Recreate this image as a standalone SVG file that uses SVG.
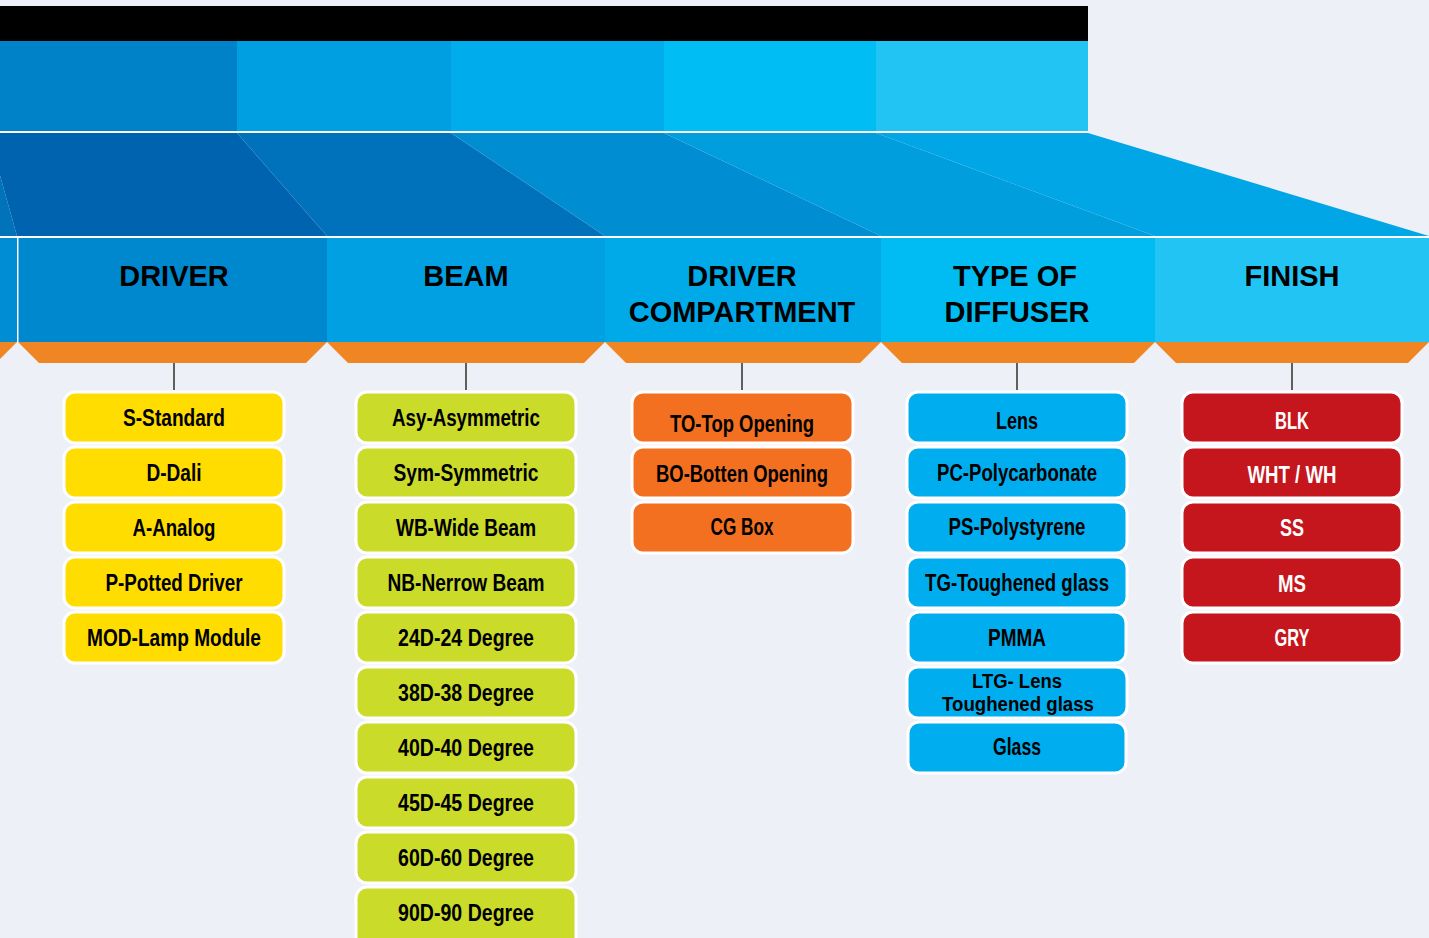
<svg xmlns="http://www.w3.org/2000/svg" width="1429" height="938" viewBox="0 0 1429 938">
<style>
.hd{font-family:"Liberation Sans",Arial,sans-serif;font-weight:bold;font-size:29px;fill:#000;text-anchor:middle}
.it{font-family:"Liberation Sans",Arial,sans-serif;font-weight:bold;font-size:23px;fill:#000;text-anchor:middle}
.sm{font-size:20px}
.wt{fill:#fff}
.box{stroke:#fff;stroke-width:3}
.y{fill:#FFDD00}.g{fill:#CBDB2A}.o{fill:#F37021}.b{fill:#00AEEF}.r{fill:#C4161C}
.orn{fill:#EF8623}
.con{stroke:#5f5f5f;stroke-width:2;fill:none}
</style>
<rect x="0" y="0" width="1429" height="938" fill="#EDF0F7"/>
<g id="banner">
<rect x="0" y="6" width="1088" height="35" fill="#000"/>
<rect x="0" y="41" width="237" height="90" fill="#0082C9"/>
<rect x="237" y="41" width="214" height="90" fill="#009FE2"/>
<rect x="451" y="41" width="213" height="90" fill="#00ACEB"/>
<rect x="664" y="41" width="212" height="90" fill="#00BDF3"/>
<rect x="876" y="41" width="212" height="90" fill="#22C4F3"/>
<rect x="0" y="131" width="1088" height="2" fill="#fff"/>
<polygon points="-40,133 -12,133 17,236 -40,236" fill="#0073BB"/>
<polygon points="-12,133 237,133 327,236 17,236" fill="#0063AF"/>
<polygon points="237,133 451,133 605,236 327,236" fill="#0072BB"/>
<polygon points="451,133 664,133 881,236 605,236" fill="#008DD1"/>
<polygon points="664,133 876,133 1155,236 881,236" fill="#009EDD"/>
<polygon points="876,133 1088,133 1429,236 1155,236" fill="#00A6E6"/>
<rect x="0" y="236" width="1429" height="2" fill="#fff"/>
<rect x="0" y="238" width="17" height="104" fill="#008DD3"/>
<rect x="17" y="238" width="1.5" height="104" fill="#fff"/>
<polygon class="orn" points="0,342 17,342 0,359"/>
</g>
<g id="col-driver">
<rect x="18.5" y="238" width="309" height="104" fill="#0088CF"/>
<polygon class="orn" points="18,342 327,342 306,363 39,363"/>
<text class="hd" x="174" y="286">DRIVER</text>
</g>
<g id="col-beam">
<rect x="327" y="238" width="278" height="104" fill="#00A0E2"/>
<polygon class="orn" points="327,342 605,342 584,363 348,363"/>
<text class="hd" x="466" y="286">BEAM</text>
</g>
<g id="col-driver-compartment">
<rect x="605" y="238" width="276" height="104" fill="#00AAE9"/>
<polygon class="orn" points="605,342 881,342 860,363 626,363"/>
<text class="hd" x="742" y="286">DRIVER</text>
<text class="hd" x="742" y="322">COMPARTMENT</text>
</g>
<g id="col-type-of-diffuser">
<rect x="881" y="238" width="274" height="104" fill="#00BCF2"/>
<polygon class="orn" points="881,342 1155,342 1134,363 902,363"/>
<text class="hd" x="1015" y="286">TYPE OF</text>
<text class="hd" x="1017" y="322">DIFFUSER</text>
</g>
<g id="col-finish">
<rect x="1155" y="238" width="274" height="104" fill="#22C4F3"/>
<polygon class="orn" points="1155,342 1429,342 1408,363 1176,363"/>
<text class="hd" x="1292" y="286">FINISH</text>
</g>
<g id="connectors">
<line class="con" x1="174" y1="363" x2="174" y2="390"/>
<line class="con" x1="466" y1="363" x2="466" y2="390"/>
<line class="con" x1="742" y1="363" x2="742" y2="390"/>
<line class="con" x1="1017" y1="363" x2="1017" y2="390"/>
<line class="con" x1="1292" y1="363" x2="1292" y2="390"/>
</g>
<g id="driver-items">
<g id="d1"><rect class="box y" x="64" y="392" width="220" height="51" rx="11"/><text class="it" x="174" y="426" textLength="102" lengthAdjust="spacingAndGlyphs">S-Standard</text></g>
<g id="d2"><rect class="box y" x="64" y="447" width="220" height="51" rx="11"/><text class="it" x="174" y="481" textLength="55" lengthAdjust="spacingAndGlyphs">D-Dali</text></g>
<g id="d3"><rect class="box y" x="64" y="502" width="220" height="51" rx="11"/><text class="it" x="174" y="536" textLength="83" lengthAdjust="spacingAndGlyphs">A-Analog</text></g>
<g id="d4"><rect class="box y" x="64" y="557" width="220" height="51" rx="11"/><text class="it" x="174" y="591" textLength="137" lengthAdjust="spacingAndGlyphs">P-Potted Driver</text></g>
<g id="d5"><rect class="box y" x="64" y="612" width="220" height="51" rx="11"/><text class="it" x="174" y="646" textLength="174" lengthAdjust="spacingAndGlyphs">MOD-Lamp Module</text></g>
</g>
<g id="beam-items">
<g id="b1"><rect class="box g" x="356" y="392" width="220" height="51" rx="11"/><text class="it" x="466" y="426" textLength="148" lengthAdjust="spacingAndGlyphs">Asy-Asymmetric</text></g>
<g id="b2"><rect class="box g" x="356" y="447" width="220" height="51" rx="11"/><text class="it" x="466" y="481" textLength="145" lengthAdjust="spacingAndGlyphs">Sym-Symmetric</text></g>
<g id="b3"><rect class="box g" x="356" y="502" width="220" height="51" rx="11"/><text class="it" x="466" y="536" textLength="140" lengthAdjust="spacingAndGlyphs">WB-Wide Beam</text></g>
<g id="b4"><rect class="box g" x="356" y="557" width="220" height="51" rx="11"/><text class="it" x="466" y="591" textLength="157" lengthAdjust="spacingAndGlyphs">NB-Nerrow Beam</text></g>
<g id="b5"><rect class="box g" x="356" y="612" width="220" height="51" rx="11"/><text class="it" x="466" y="646" textLength="136" lengthAdjust="spacingAndGlyphs">24D-24 Degree</text></g>
<g id="b6"><rect class="box g" x="356" y="667" width="220" height="51" rx="11"/><text class="it" x="466" y="701" textLength="136" lengthAdjust="spacingAndGlyphs">38D-38 Degree</text></g>
<g id="b7"><rect class="box g" x="356" y="722" width="220" height="51" rx="11"/><text class="it" x="466" y="756" textLength="136" lengthAdjust="spacingAndGlyphs">40D-40 Degree</text></g>
<g id="b8"><rect class="box g" x="356" y="777" width="220" height="51" rx="11"/><text class="it" x="466" y="811" textLength="136" lengthAdjust="spacingAndGlyphs">45D-45 Degree</text></g>
<g id="b9"><rect class="box g" x="356" y="832" width="220" height="51" rx="11"/><text class="it" x="466" y="866" textLength="136" lengthAdjust="spacingAndGlyphs">60D-60 Degree</text></g>
<g id="b10"><rect class="box g" x="356" y="887" width="220" height="62" rx="11"/><text class="it" x="466" y="921" textLength="136" lengthAdjust="spacingAndGlyphs">90D-90 Degree</text></g>
</g>
<g id="compartment-items">
<g id="c1"><rect class="box o" x="632" y="392" width="221" height="51" rx="11"/><text class="it" x="742" y="432" textLength="144" lengthAdjust="spacingAndGlyphs">TO-Top Opening</text></g>
<g id="c2"><rect class="box o" x="632" y="447" width="221" height="51" rx="11"/><text class="it" x="742" y="482" textLength="172" lengthAdjust="spacingAndGlyphs">BO-Botten Opening</text></g>
<g id="c3"><rect class="box o" x="632" y="502" width="221" height="51" rx="11"/><text class="it" x="742" y="535" textLength="63" lengthAdjust="spacingAndGlyphs">CG Box</text></g>
</g>
<g id="diffuser-items">
<g id="t1"><rect class="box b" x="907" y="392" width="220" height="51" rx="11"/><text class="it" x="1017" y="429" textLength="42" lengthAdjust="spacingAndGlyphs">Lens</text></g>
<g id="t2"><rect class="box b" x="907" y="447" width="220" height="51" rx="11"/><text class="it" x="1017" y="481" textLength="160" lengthAdjust="spacingAndGlyphs">PC-Polycarbonate</text></g>
<g id="t3"><rect class="box b" x="907" y="502" width="220" height="51" rx="11"/><text class="it" x="1017" y="535" textLength="137" lengthAdjust="spacingAndGlyphs">PS-Polystyrene</text></g>
<g id="t4"><rect class="box b" x="907" y="557" width="220" height="51" rx="11"/><text class="it" x="1017" y="591" textLength="184" lengthAdjust="spacingAndGlyphs">TG-Toughened glass</text></g>
<g id="t5"><rect class="box b" x="908" y="612" width="218" height="51" rx="11"/><text class="it" x="1017" y="646" textLength="58" lengthAdjust="spacingAndGlyphs">PMMA</text></g>
<g id="t6"><rect class="box b" x="907" y="667" width="220" height="51" rx="11"/><text class="it sm" x="1017" y="688" textLength="90" lengthAdjust="spacingAndGlyphs">LTG- Lens</text><text class="it sm" x="1018" y="711" textLength="152" lengthAdjust="spacingAndGlyphs">Toughened glass</text></g>
<g id="t7"><rect class="box b" x="908" y="722" width="218" height="51" rx="11"/><text class="it" x="1017" y="755" textLength="48" lengthAdjust="spacingAndGlyphs">Glass</text></g>
</g>
<g id="finish-items">
<g id="f1"><rect class="box r" x="1182" y="392" width="220" height="51" rx="11"/><text class="it wt" x="1292" y="429" textLength="34" lengthAdjust="spacingAndGlyphs">BLK</text></g>
<g id="f2"><rect class="box r" x="1182" y="447" width="220" height="51" rx="11"/><text class="it wt" x="1292" y="483" textLength="89" lengthAdjust="spacingAndGlyphs">WHT / WH</text></g>
<g id="f3"><rect class="box r" x="1182" y="502" width="220" height="51" rx="11"/><text class="it wt" x="1292" y="536" textLength="24" lengthAdjust="spacingAndGlyphs">SS</text></g>
<g id="f4"><rect class="box r" x="1182" y="557" width="220" height="51" rx="11"/><text class="it wt" x="1292" y="592" textLength="28" lengthAdjust="spacingAndGlyphs">MS</text></g>
<g id="f5"><rect class="box r" x="1182" y="612" width="220" height="51" rx="11"/><text class="it wt" x="1292" y="646" textLength="35" lengthAdjust="spacingAndGlyphs">GRY</text></g>
</g>
</svg>
